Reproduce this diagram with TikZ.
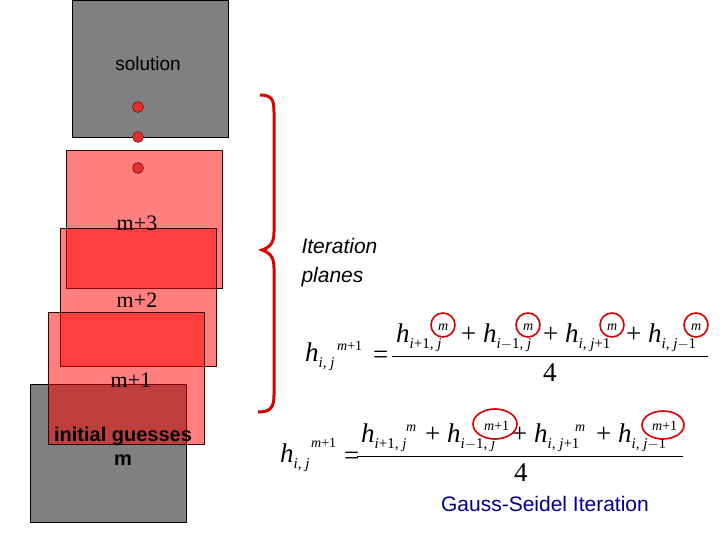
\documentclass[tikz,border=0pt]{standalone}
\usepackage{fontspec}
\setmainfont{Liberation Serif}
\setsansfont{Liberation Sans}
\newcommand{\hterm}[1]{\textit{h}\raisebox{-6pt}{\fontsize{15}{15}\selectfont\textit{#1}}}
\newcommand{\up}[1]{{\upshape#1}}
\begin{document}
\begin{tikzpicture}[x=1pt,y=-1pt,
  layer/.style={draw=black!80!red,fill=red,fill opacity=0.5,line width=0.8pt},
  grayb/.style={draw=black,fill=black!50,line width=0.8pt},
  dot/.style={circle,draw=black!70!red,fill=red!80!white!90!black,minimum size=11pt,inner sep=0pt},
  lbl/.style={font=\fontsize{22}{24}\selectfont},
  eq/.style={anchor=base west,inner sep=0pt,font=\fontsize{27}{28}\selectfont},
  sup/.style={anchor=base west,inner sep=0pt,font=\fontsize{14}{14}\selectfont\itshape},
  ring/.style={draw=red!85!black,line width=1.6pt}]
\useasboundingbox (0,0) rectangle (720,540);
\fill[white] (0,0) rectangle (720,540);
% solution
\draw[grayb] (72,0) rectangle (228,137);
\node (sol) at (148,64) {\sffamily\fontsize{19}{20}\selectfont solution};
% layers
\draw[layer] (66,150) rectangle (222,288);
\draw[layer] (60,228) rectangle (216,366);
\draw[grayb] (30,384) rectangle (186,522);
\draw[layer] (48,312) rectangle (204,444);
\node[dot] (d1) at (138,107) {};
\node[dot] (d2) at (138,137) {};
\node[dot] (d3) at (138,168) {};
\node[lbl] (m3) at (137,223) {m+3};
\node[lbl] (m2) at (137,300) {m+2};
\node[lbl] (m1) at (131,380) {m+1};
\node[font=\sffamily\bfseries\fontsize{20}{22}\selectfont] (ig) at (123,436) {initial guesses};
\node[font=\sffamily\bfseries\fontsize{20}{22}\selectfont] (mm) at (123,460) {m};
% brace
\draw[red!85!black,line width=3pt] (260,95) .. controls (272,95) and (274,100) .. (274,112) -- (274,232) .. controls (274,245) and (268,248) .. (262,250) .. controls (268,252) and (274,255) .. (274,268) -- (274,395) .. controls (274,408) and (270,412) .. (258,412);
\node[anchor=west,align=left,font=\sffamily\itshape\fontsize{21}{29}\selectfont] (it) at (298,263) {Iteration\\planes};
% equation 1
\node[eq] (a1) at (305,361) {\hterm{i, j}};
\node[sup] (a1s) at (337,350) {m\up{+1}};
\node[eq] (e1) at (373,363) {=};
\draw[line width=1pt] (392,356) -- (708,356);
\node[eq] (n1) at (396,342) {\hterm{i\up{+1}, j}};
\node[eq] (n2) at (461,342) {+ \hterm{i\up{$-$1}, j}};
\node[eq] (n3) at (543,342) {+ \hterm{i, j\up{+1}}};
\node[eq] (n4) at (626,342) {+ \hterm{i, j\up{$-$1}}};
\foreach \x in {438,523,607,691} \node[sup] at (\x,330) {m};
\foreach \x in {443,528,612,696} \draw[ring] (\x,325) circle (12);
\node[eq] (f1) at (543,381) {4};
% equation 2
\node[eq] (a2) at (280,462) {\hterm{i, j}};
\node[sup] (a2s) at (311,447) {m\up{+1}};
\node[eq] (e2) at (344,464) {=};
\draw[line width=1pt] (357,456) -- (683,456);
\node[eq] (p1) at (361,442) {\hterm{i\up{+1}, j}};
\node[eq] (p2) at (425,442) {+ \hterm{i\up{$-$1}, j}};
\node[eq] (p3) at (512,442) {+ \hterm{i, j\up{+1}}};
\node[eq] (p4) at (596,442) {+ \hterm{i, j\up{$-$1}}};
\node[sup] at (406,431) {m};
\node[sup] at (575,431) {m};
\node[sup] at (484,430) {m\up{+1}};
\node[sup] at (652,430) {m\up{+1}};
\draw[ring] (495,424) ellipse (22 and 15);
\draw[ring] (663,425) ellipse (21 and 14);
\node[eq] (f2) at (514,481) {4};
\node[font=\sffamily\fontsize{21}{22}\selectfont,text=blue!55!black] (gs) at (545,504) {Gauss-Seidel Iteration};
\end{tikzpicture}
\end{document}
